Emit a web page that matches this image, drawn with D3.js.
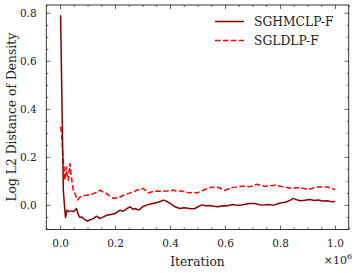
<!DOCTYPE html>
<html>
<head>
<meta charset="utf-8">
<script src="https://cdn.jsdelivr.net/npm/d3@7"></script>
<style>
  body { margin: 0; background: #fff; }
  text { font-family: "DejaVu Serif", "Liberation Serif", serif; fill: #222; }
</style>
</head>
<body>
<div class="chart"></div>
<script>
// iteration counts (in units of 1e6) and log L2 distance
const sghmcIter = [0.002, 0.008, 0.012, 0.018, 0.02, 0.025, 0.032, 0.042, 0.05, 0.06, 0.066, 0.073, 0.08, 0.088, 0.1, 0.11, 0.121, 0.133, 0.145, 0.158, 0.17, 0.185, 0.2, 0.21, 0.218, 0.228, 0.236, 0.245, 0.255, 0.265, 0.273, 0.282, 0.29, 0.3, 0.315, 0.33, 0.345, 0.36, 0.376, 0.39, 0.4, 0.418, 0.436, 0.45, 0.46, 0.475, 0.49, 0.505, 0.515, 0.53, 0.545, 0.56, 0.576, 0.59, 0.606, 0.62, 0.63, 0.645, 0.66, 0.675, 0.69, 0.709, 0.725, 0.74, 0.758, 0.776, 0.79, 0.8, 0.812, 0.825, 0.838, 0.848, 0.86, 0.873, 0.89, 0.909, 0.925, 0.94, 0.955, 0.97, 0.985, 1.0];
const sghmcVal = [0.79, 0.35, 0.06, -0.03, -0.053, -0.022, -0.028, -0.025, -0.028, -0.015, -0.04, -0.053, -0.05, -0.06, -0.067, -0.062, -0.057, -0.047, -0.057, -0.05, -0.043, -0.04, -0.036, -0.028, -0.022, -0.027, -0.022, -0.014, -0.008, -0.018, -0.015, -0.02, -0.019, -0.008, -0.001, 0.004, 0.008, 0.012, 0.02, 0.014, 0.006, -0.008, -0.015, -0.012, -0.013, -0.016, -0.015, -0.006, 0, -0.004, -0.003, -0.006, -0.008, -0.004, -0.005, 0, 0.002, -0.002, 0, 0.003, 0.006, 0.006, 0.001, -0.001, 0.002, -0.001, 0.004, 0.008, 0.01, 0.013, 0.02, 0.027, 0.022, 0.017, 0.019, 0.022, 0.018, 0.02, 0.016, 0.017, 0.014, 0.013];

const sgldIter = [0.002, 0.006, 0.01, 0.014, 0.018, 0.022, 0.026, 0.03, 0.036, 0.042, 0.048, 0.055, 0.063, 0.073, 0.085, 0.097, 0.11, 0.121, 0.133, 0.145, 0.158, 0.17, 0.182, 0.194, 0.206, 0.218, 0.23, 0.243, 0.255, 0.267, 0.28, 0.29, 0.303, 0.32, 0.335, 0.352, 0.37, 0.388, 0.4, 0.412, 0.427, 0.442, 0.455, 0.467, 0.482, 0.497, 0.51, 0.521, 0.533, 0.545, 0.557, 0.57, 0.585, 0.6, 0.612, 0.624, 0.64, 0.655, 0.67, 0.69, 0.7, 0.715, 0.73, 0.745, 0.765, 0.782, 0.8, 0.812, 0.825, 0.842, 0.858, 0.873, 0.888, 0.903, 0.918, 0.933, 0.95, 0.97, 0.985, 1.0];
const sgldVal = [0.325, 0.3, 0.2, 0.16, 0.103, 0.158, 0.12, 0.103, 0.172, 0.11, 0.061, 0.045, 0.02, 0.033, 0.038, 0.04, 0.043, 0.047, 0.052, 0.061, 0.053, 0.047, 0.035, 0.027, 0.03, 0.033, 0.04, 0.045, 0.05, 0.054, 0.062, 0.064, 0.068, 0.05, 0.055, 0.058, 0.056, 0.058, 0.06, 0.061, 0.057, 0.058, 0.054, 0.05, 0.052, 0.05, 0.055, 0.061, 0.067, 0.072, 0.074, 0.075, 0.068, 0.061, 0.066, 0.072, 0.074, 0.077, 0.078, 0.076, 0.079, 0.086, 0.081, 0.078, 0.08, 0.082, 0.078, 0.075, 0.072, 0.068, 0.071, 0.072, 0.068, 0.064, 0.069, 0.075, 0.074, 0.075, 0.07, 0.064];

const seriesNames = ["SGHMCLP-F", "SGLDLP-F"];
const seriesColors = ["#8b0000", "#ff0000"];
const xTicks = [0, 0.2, 0.4, 0.6, 0.8, 1.0];
const yTicks = [0, 0.2, 0.4, 0.6, 0.8];

const W = 354, H = 273;
const margin = {top: 5, right: 5.3, bottom: 43.5, left: 46.3};
const labelSize = 12.3, tickSize = 10.5;

const svg = d3.select(".chart").append("svg")
    .attr("width", W)
    .attr("height", H);

const x = d3.scaleLinear().domain([-0.05, 1.05]).range([margin.left, W - margin.right]);
const y = d3.scaleLinear().domain([-0.1025, 0.8325]).range([H - margin.bottom, margin.top]);

const series = [
    {name: seriesNames[0], color: seriesColors[0], dash: null, pts: sghmcIter.map((d, i) => ({x: d, y: sghmcVal[i]}))},
    {name: seriesNames[1], color: seriesColors[1], dash: "5.5,2.4", pts: sgldIter.map((d, i) => ({x: d, y: sgldVal[i]}))}
];

const line = d3.line().x(d => x(d.x)).y(d => y(d.y));

svg.append("defs").append("clipPath").attr("id", "clip")
    .append("rect")
    .attr("x", margin.left).attr("y", margin.top)
    .attr("width", W - margin.left - margin.right)
    .attr("height", H - margin.top - margin.bottom);

// draw the SGLD one first so the dark line sits on top
[series[1], series[0]].forEach(s => {
    svg.append("path")
        .datum(s.pts)
        .attr("clip-path", "url(#clip)")
        .attr("fill", "none")
        .attr("stroke", s.color)
        .attr("stroke-width", 1.5)
        .attr("stroke-dasharray", s.dash)
        .attr("stroke-linejoin", "round")
        .attr("d", line);
});

// axes, ticks pointing inward on all four sides
const fmt = d3.format(".1f");
const xMinor = d3.range(-0.05, 1.051, 0.05).map(v => +v.toFixed(2)).filter(v => !xTicks.includes(v));
const yMinor = d3.range(-0.1, 0.83, 0.05).map(v => +v.toFixed(2)).filter(v => !yTicks.includes(v));

const plotBottom = H - margin.bottom, plotTop = margin.top;
const plotLeft = margin.left, plotRight = W - margin.right;

svg.append("g").attr("transform", `translate(0,${plotBottom})`)
    .call(d3.axisBottom(x).tickValues(xTicks).tickSize(-4).tickPadding(10).tickFormat(fmt));
svg.append("g").attr("transform", `translate(0,${plotBottom})`)
    .call(d3.axisBottom(x).tickValues(xMinor).tickSize(-2).tickFormat(""));
svg.append("g").attr("transform", `translate(0,${plotTop})`)
    .call(d3.axisTop(x).tickValues(xTicks).tickSize(-4).tickFormat(""));
svg.append("g").attr("transform", `translate(0,${plotTop})`)
    .call(d3.axisTop(x).tickValues(xMinor).tickSize(-2).tickFormat(""));

svg.append("g").attr("transform", `translate(${plotLeft},0)`)
    .call(d3.axisLeft(y).tickValues(yTicks).tickSize(-4).tickPadding(9.5).tickFormat(fmt));
svg.append("g").attr("transform", `translate(${plotLeft},0)`)
    .call(d3.axisLeft(y).tickValues(yMinor).tickSize(-2).tickFormat(""));
svg.append("g").attr("transform", `translate(${plotRight},0)`)
    .call(d3.axisRight(y).tickValues(yTicks).tickSize(-4).tickFormat(""));
svg.append("g").attr("transform", `translate(${plotRight},0)`)
    .call(d3.axisRight(y).tickValues(yMinor).tickSize(-2).tickFormat(""));

svg.selectAll(".domain").remove();
svg.selectAll(".tick line").attr("stroke", "#222").attr("stroke-width", 0.7);
svg.selectAll(".tick text").attr("font-size", tickSize).attr("font-family", "DejaVu Serif").attr("fill", "#222");

svg.append("rect")
    .attr("x", plotLeft).attr("y", plotTop)
    .attr("width", plotRight - plotLeft).attr("height", plotBottom - plotTop)
    .attr("fill", "none").attr("stroke", "#222").attr("stroke-width", 0.9);

// labels
svg.append("text")
    .attr("x", (plotLeft + plotRight) / 2).attr("y", 266)
    .attr("text-anchor", "middle").attr("font-size", labelSize)
    .text("Iteration");

const mult = svg.append("text")
    .attr("x", 352).attr("y", 264)
    .attr("text-anchor", "end").attr("font-size", 11);
mult.append("tspan").text("×10");
mult.append("tspan").attr("dy", -5).attr("font-size", 8).text("6");

svg.append("text")
    .attr("transform", `translate(15.5,${(plotTop + plotBottom) / 2}) rotate(-90)`)
    .attr("text-anchor", "middle").attr("font-size", labelSize)
    .text("Log L2 Distance of Density");

// legend
const legend = svg.append("g");
series.forEach((s, i) => {
    const ly = 21.5 + i * 19;
    legend.append("line")
        .attr("x1", 215).attr("x2", 244)
        .attr("y1", ly).attr("y2", ly)
        .attr("stroke", s.color).attr("stroke-width", 1.5)
        .attr("stroke-dasharray", s.dash);
    legend.append("text")
        .attr("x", 254).attr("y", ly + 4.5)
        .attr("font-size", labelSize)
        .text(s.name);
});
</script>
</body>
</html>
